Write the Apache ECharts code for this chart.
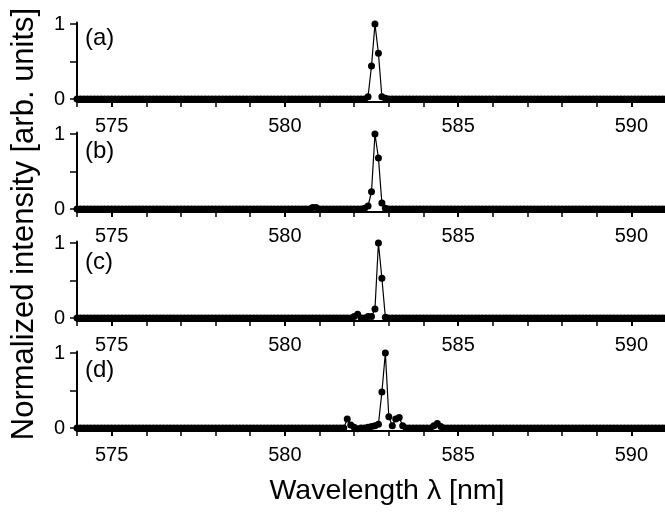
<!DOCTYPE html>
<html>
<head>
<meta charset="utf-8">
<script src="https://cdn.jsdelivr.net/npm/echarts@6/dist/echarts.min.js"></script>
<style>
html,body{margin:0;padding:0;background:#fff;}
#chart{width:665px;height:514px;}
</style>
</head>
<body>
<div id="chart"></div>
<script>
// Wavelength samples (nm)
var wavelengths = [
574.0,574.1,574.2,574.3,574.4,574.5,574.6,574.7,574.8,574.9,
575.0,575.1,575.2,575.3,575.4,575.5,575.6,575.7,575.8,575.9,
576.0,576.1,576.2,576.3,576.4,576.5,576.6,576.7,576.8,576.9,
577.0,577.1,577.2,577.3,577.4,577.5,577.6,577.7,577.8,577.9,
578.0,578.1,578.2,578.3,578.4,578.5,578.6,578.7,578.8,578.9,
579.0,579.1,579.2,579.3,579.4,579.5,579.6,579.7,579.8,579.9,
580.0,580.1,580.2,580.3,580.4,580.5,580.6,580.7,580.8,580.9,
581.0,581.1,581.2,581.3,581.4,581.5,581.6,581.7,581.8,581.9,
582.0,582.1,582.2,582.3,582.4,582.5,582.6,582.7,582.8,582.9,
583.0,583.1,583.2,583.3,583.4,583.5,583.6,583.7,583.8,583.9,
584.0,584.1,584.2,584.3,584.4,584.5,584.6,584.7,584.8,584.9,
585.0,585.1,585.2,585.3,585.4,585.5,585.6,585.7,585.8,585.9,
586.0,586.1,586.2,586.3,586.4,586.5,586.6,586.7,586.8,586.9,
587.0,587.1,587.2,587.3,587.4,587.5,587.6,587.7,587.8,587.9,
588.0,588.1,588.2,588.3,588.4,588.5,588.6,588.7,588.8,588.9,
589.0,589.1,589.2,589.3,589.4,589.5,589.6,589.7,589.8,589.9,
590.0,590.1,590.2,590.3,590.4,590.5,590.6,590.7,590.8,590.9,
591.0
];

var intensityA = [
0,0,0,0,0,0,0,0,0,0,
0,0,0,0,0,0,0,0,0,0,
0,0,0,0,0,0,0,0,0,0,
0,0,0,0,0,0,0,0,0,0,
0,0,0,0,0,0,0,0,0,0,
0,0,0,0,0,0,0,0,0,0,
0,0,0,0,0,0,0,0,0,0,
0,0,0,0,0,0,0,0,0,0,
0,0,0,0,0.03,0.44,1.0,0.61,0.03,0.01,
0,0,0,0,0,0,0,0,0,0,
0,0,0,0,0,0,0,0,0,0,
0,0,0,0,0,0,0,0,0,0,
0,0,0,0,0,0,0,0,0,0,
0,0,0,0,0,0,0,0,0,0,
0,0,0,0,0,0,0,0,0,0,
0,0,0,0,0,0,0,0,0,0,
0,0,0,0,0,0,0,0,0,0,
0
];

var intensityB = [
0,0,0,0,0,0,0,0,0,0,
0,0,0,0,0,0,0,0,0,0,
0,0,0,0,0,0,0,0,0,0,
0,0,0,0,0,0,0,0,0,0,
0,0,0,0,0,0,0,0,0,0,
0,0,0,0,0,0,0,0,0,0,
0,0,0,0,0,0,0,0,0.02,0.02,
0,0,0,0,0,0,0,0,0,0,
0,0,0,0.01,0.04,0.23,1.0,0.68,0.08,0.01,
0,0,0,0,0,0,0,0,0,0,
0,0,0,0,0,0,0,0,0,0,
0,0,0,0,0,0,0,0,0,0,
0,0,0,0,0,0,0,0,0,0,
0,0,0,0,0,0,0,0,0,0,
0,0,0,0,0,0,0,0,0,0,
0,0,0,0,0,0,0,0,0,0,
0,0,0,0,0,0,0,0,0,0,
0
];

var intensityC = [
0,0,0,0,0,0,0,0,0,0,
0,0,0,0,0,0,0,0,0,0,
0,0,0,0,0,0,0,0,0,0,
0,0,0,0,0,0,0,0,0,0,
0,0,0,0,0,0,0,0,0,0,
0,0,0,0,0,0,0,0,0,0,
0,0,0,0,0,0,0,0,0,0,
0,0,0,0,0,0,0,0,0,0,
0.02,0.05,0,0,0.02,0.02,0.12,1.0,0.53,0.01,
0,0,0,0,0,0,0,0,0,0,
0,0,0,0,0,0,0,0,0,0,
0,0,0,0,0,0,0,0,0,0,
0,0,0,0,0,0,0,0,0,0,
0,0,0,0,0,0,0,0,0,0,
0,0,0,0,0,0,0,0,0,0,
0,0,0,0,0,0,0,0,0,0,
0,0,0,0,0,0,0,0,0,0,
0
];

var intensityD = [
0,0,0,0,0,0,0,0,0,0,
0,0,0,0,0,0,0,0,0,0,
0,0,0,0,0,0,0,0,0,0,
0,0,0,0,0,0,0,0,0,0,
0,0,0,0,0,0,0,0,0,0,
0,0,0,0,0,0,0,0,0,0,
0,0,0,0,0,0,0,0,0,0,
0,0,0,0,0,0,0,0,0.12,0.04,
0.01,-0.01,0,0,0.01,0.02,0.03,0.05,0.48,1.0,
0.15,0.03,0.12,0.14,0.03,0,0,0,0,0,
0,0,0,0.03,0.06,0.02,0,0,0,0,
0,0,0,0,0,0,0,0,0,0,
0,0,0,0,0,0,0,0,0,0,
0,0,0,0,0,0,0,0,0,0,
0,0,0,0,0,0,0,0,0,0,
0,0,0,0,0,0,0,0,0,0,
0,0,0,0,0,0,0,0,0,0,
0
];

var panelLabels = ['(a)', '(b)', '(c)', '(d)'];
var xLabelTicks = [575, 580, 585, 590];
var xMinorTicks = [574,575,576,577,578,579,580,581,582,583,584,585,586,587,588,589,590,591];
var yLabelTicks = [0, 1];
var yTicks = [0, 0.5, 1];
var xTitle = 'Wavelength \u03bb [nm]';
var yTitle = 'Normalized intensity [arb. units]';

var panels = [intensityA, intensityB, intensityC, intensityD];
var gridTops = [22.5, 132.5, 241.5, 351.5];
var labelCenters = [39, 152, 263, 371];
var FONT = 'Liberation Sans, Arial, Helvetica, sans-serif';

var grids = [], xAxes = [], yAxes = [], series = [], graphics = [];
panels.forEach(function (vals, k) {
  grids.push({left: 77, top: gridTops[k], width: 589, height: 79.5, outerBoundsMode: 'none', containLabel: false});
  xAxes.push({
    type: 'value', gridIndex: k, min: 574, max: 591, position: 'bottom',
    axisLine: {show: true, onZero: false, lineStyle: {color: '#000', width: 2}},
    axisTick: {show: true, customValues: xMinorTicks, length: 5, lineStyle: {color: '#000', width: 1.5}},
    axisLabel: {show: true, customValues: xLabelTicks, margin: 14, color: '#000', fontSize: 20, fontFamily: FONT},
    splitLine: {show: false}
  });
  xAxes.push({
    type: 'value', gridIndex: k, min: 574, max: 591, position: 'bottom',
    axisLine: {show: false},
    axisTick: {show: true, customValues: xLabelTicks, length: 8, lineStyle: {color: '#000', width: 2}},
    axisLabel: {show: false},
    splitLine: {show: false}
  });
  yAxes.push({
    type: 'value', gridIndex: k, min: -0.04, max: 1.02,
    axisLine: {show: true, onZero: false, lineStyle: {color: '#000', width: 2}},
    axisTick: {show: true, customValues: yTicks, length: 7, lineStyle: {color: '#000', width: 1.5}},
    axisLabel: {show: true, customValues: yLabelTicks, margin: 12, color: '#000', fontSize: 20, fontFamily: FONT},
    splitLine: {show: false}
  });
  series.push({
    type: 'line', xAxisIndex: 2 * k, yAxisIndex: k,
    data: wavelengths.map(function (w, i) { return [w, vals[i]]; }),
    symbol: 'circle', symbolSize: 7, showSymbol: true,
    itemStyle: {color: '#000'},
    lineStyle: {color: '#000', width: 1.2},
    animation: false, silent: true
  });
  graphics.push({
    type: 'text', left: 85, top: labelCenters[k] - 13,
    style: {text: panelLabels[k], fill: '#000', font: '24px ' + FONT}
  });
});

graphics.push({
  type: 'text', x: 24, y: 224, rotation: Math.PI / 2,
  style: {text: yTitle, fill: '#000', font: '31px ' + FONT, align: 'center', verticalAlign: 'middle'}
});
graphics.push({
  type: 'text', x: 387, y: 491,
  style: {text: xTitle, fill: '#000', font: '28.5px ' + FONT, align: 'center', verticalAlign: 'middle'}
});

var chart = echarts.init(document.getElementById('chart'), null, {renderer: 'canvas'});
chart.setOption({
  backgroundColor: '#fff',
  animation: false,
  grid: grids,
  xAxis: xAxes,
  yAxis: yAxes,
  series: series,
  graphic: graphics
});
</script>
</body>
</html>
